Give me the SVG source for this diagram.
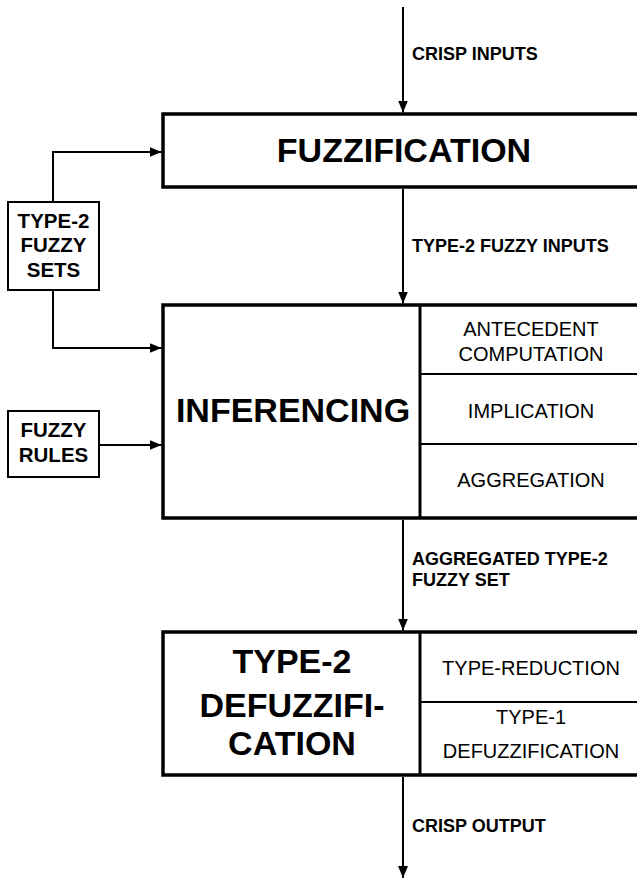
<svg xmlns="http://www.w3.org/2000/svg" width="637" height="878" viewBox="0 0 637 878">
<style>
text{font-family:"Liberation Sans",Arial,Helvetica,sans-serif;fill:#000}
.big{font-size:34px;font-weight:bold;text-anchor:middle}
.sub{font-size:20px;text-anchor:middle}
.small{font-size:20.5px;font-weight:bold;text-anchor:middle}
.lbl{font-size:18px;font-weight:bold}
.main{fill:#fff;stroke:#000;stroke-width:3.5}
.aux{fill:#fff;stroke:#000;stroke-width:2}
.div{stroke:#000;stroke-width:2;fill:none}
.vdiv{stroke:#000;stroke-width:3;fill:none}
.conn{stroke:#000;stroke-width:2;fill:none}
</style>
<defs>
<marker id="ah" markerUnits="userSpaceOnUse" markerWidth="12" markerHeight="10" refX="12" refY="5" orient="auto">
<path d="M0,0 L12,5 L0,10 z" fill="#000"/>
</marker>
</defs>
<g id="connectors">
<path class="conn" d="M403,7 V112.5" marker-end="url(#ah)"/>
<path class="conn" d="M403,189 V303.5" marker-end="url(#ah)"/>
<path class="conn" d="M403,520 V630.5" marker-end="url(#ah)"/>
<path class="conn" d="M403,777 V878" marker-end="url(#ah)"/>
<path class="conn" d="M53,202 V152 H161.5" marker-end="url(#ah)"/>
<path class="conn" d="M53,290 V348 H161.5" marker-end="url(#ah)"/>
<path class="conn" d="M99,445 H161.5" marker-end="url(#ah)"/>
<text class="lbl" x="412" y="60">CRISP INPUTS</text>
<text class="lbl" x="412" y="252">TYPE-2 FUZZY INPUTS</text>
<text class="lbl" x="412" y="565">AGGREGATED TYPE-2</text>
<text class="lbl" x="412" y="586">FUZZY SET</text>
<text class="lbl" x="412" y="832">CRISP OUTPUT</text>
</g>
<g id="fuzzification">
<rect class="main" x="163" y="114" width="482" height="73"/>
<text class="big" x="404" y="162">FUZZIFICATION</text>
</g>
<g id="type2-fuzzy-sets">
<rect class="aux" x="8" y="202" width="91" height="88"/>
<text class="small" x="53.5" y="228">TYPE-2</text>
<text class="small" x="53.5" y="252">FUZZY</text>
<text class="small" x="53.5" y="277">SETS</text>
</g>
<g id="fuzzy-rules">
<rect class="aux" x="8" y="411" width="91" height="66"/>
<text class="small" x="53.5" y="437">FUZZY</text>
<text class="small" x="53.5" y="462">RULES</text>
</g>
<g id="inferencing">
<rect class="main" x="163" y="305" width="482" height="213"/>
<line class="vdiv" x1="420" y1="305" x2="420" y2="518"/>
<line class="div" x1="420" y1="374" x2="645" y2="374"/>
<line class="div" x1="420" y1="444" x2="645" y2="444"/>
<text class="big" x="293" y="422">INFERENCING</text>
<text class="sub" x="531" y="336">ANTECEDENT</text>
<text class="sub" x="531" y="361">COMPUTATION</text>
<text class="sub" x="531" y="418">IMPLICATION</text>
<text class="sub" x="531" y="487">AGGREGATION</text>
</g>
<g id="type2-defuzzification">
<rect class="main" x="163" y="632" width="482" height="143"/>
<line class="vdiv" x1="420" y1="632" x2="420" y2="775"/>
<line class="div" x1="420" y1="702" x2="645" y2="702"/>
<text class="big" x="292" y="673">TYPE-2</text>
<text class="big" x="292" y="717">DEFUZZIFI-</text>
<text class="big" x="292" y="755">CATION</text>
<text class="sub" x="531" y="675">TYPE-REDUCTION</text>
<text class="sub" x="531" y="724">TYPE-1</text>
<text class="sub" x="531" y="758">DEFUZZIFICATION</text>
</g>
</svg>
